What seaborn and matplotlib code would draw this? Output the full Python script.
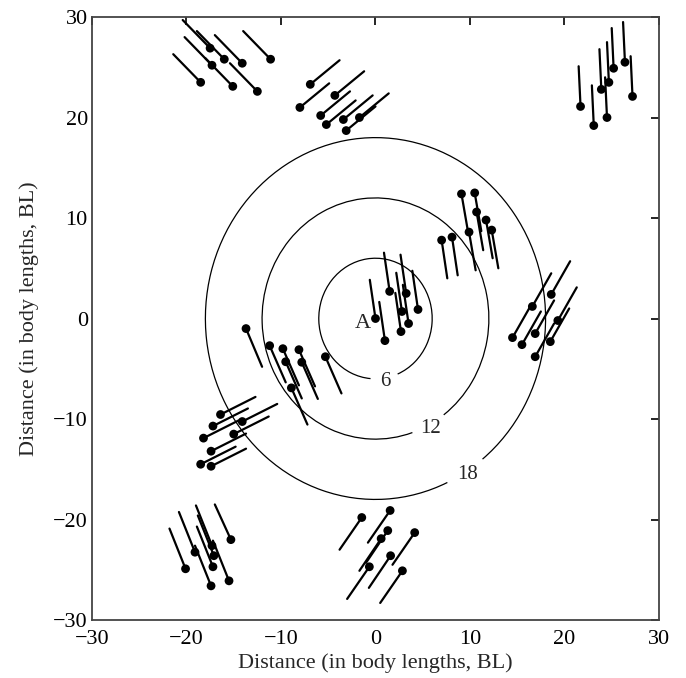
import numpy as np
import pandas as pd
import matplotlib
matplotlib.use("Agg")
import matplotlib.pyplot as plt
from matplotlib.patches import Arc
import seaborn as sns

# Fish head positions (body lengths) and tail end positions, grouped by school
head_x = [
    # north-west school
    -17.5, -16.0, -14.1, -11.1, -17.3, -18.5, -15.1, -12.5,
    # north school
    -6.9, -4.3, -8.0, -5.8, -5.2, -3.4, -1.7, -3.1,
    # north-east school
    21.7, 23.1, 24.5, 23.9, 24.7, 25.2, 26.4, 27.2,
    # inner north-east school
    9.1, 10.5, 10.7, 9.9, 11.7, 12.3, 7.0, 8.1,
    # central school (focal fish A at origin)
    1.5, 3.25, 2.8, 4.5, 3.5, 2.7, 0.0, 1.0,
    # east school
    18.6, 16.6, 19.3, 16.9, 14.5, 15.5, 18.5, 16.9,
    # west school
    -16.4, -17.2, -14.1, -18.2, -15.0, -17.4, -18.5, -17.4,
    # inner west school
    -13.7, -11.2, -9.8, -8.1, -9.5, -7.8, -8.9, -5.3,
    # south-west school
    -15.3, -19.1, -17.3, -17.1, -20.1, -17.2, -17.4, -15.5,
    # south school
    -1.45, 1.55, 1.3, 0.6, 4.15, 1.6, -0.65, 2.85,
]
head_y = [
    26.9, 25.8, 25.4, 25.8, 25.2, 23.5, 23.1, 22.6,
    23.3, 22.2, 21.0, 20.2, 19.3, 19.8, 20.0, 18.7,
    21.1, 19.2, 20.0, 22.8, 23.5, 24.9, 25.5, 22.1,
    12.4, 12.5, 10.6, 8.6, 9.8, 8.8, 7.8, 8.1,
    2.7, 2.5, 0.7, 0.9, -0.5, -1.3, 0.0, -2.2,
    2.4, 1.2, -0.2, -1.5, -1.9, -2.6, -2.3, -3.8,
    -9.55, -10.7, -10.25, -11.9, -11.5, -13.2, -14.5, -14.7,
    -1.0, -2.7, -3.0, -3.1, -4.3, -4.35, -6.9, -3.8,
    -22.0, -23.25, -22.6, -23.6, -24.9, -24.7, -26.6, -26.1,
    -19.8, -19.1, -21.1, -21.9, -21.3, -23.6, -24.7, -25.1,
]
tail_x = [
    -20.4, -18.9, -17.0, -14.0, -20.2, -21.4, -18.0, -15.4,
    -3.8, -1.2, -4.9, -2.7, -2.1, -0.3, 1.4, 0.0,
    21.5, 22.9, 24.3, 23.7, 24.5, 25.0, 26.2, 27.0,
    9.8, 11.2, 11.4, 10.6, 12.4, 13.0, 7.6, 8.7,
    0.9, 2.65, 2.2, 3.9, 2.9, 2.1, -0.6, 0.4,
    20.6, 18.6, 21.3, 18.9, 16.5, 17.5, 20.5, 18.9,
    -12.7, -13.5, -10.4, -14.5, -11.3, -13.7, -14.8, -13.7,
    -12.0, -9.5, -8.1, -6.4, -7.8, -6.1, -7.2, -3.6,
    -17.0, -20.8, -19.0, -18.8, -21.8, -18.9, -19.1, -17.2,
    -3.8, -0.8, -1.0, -1.7, 1.8, -0.7, -3.0, 0.5,
]
tail_y = [
    29.7, 28.6, 28.2, 28.6, 28.0, 26.3, 25.9, 25.4,
    25.7, 24.6, 23.4, 22.6, 21.7, 22.2, 22.4, 21.1,
    25.1, 23.2, 24.0, 26.8, 27.5, 28.9, 29.5, 26.1,
    8.6, 8.7, 6.8, 4.8, 6.0, 5.0, 4.0, 4.3,
    6.55, 6.35, 4.55, 4.75, 3.35, 2.55, 3.85, 1.65,
    5.7, 4.5, 3.1, 1.8, 1.4, 0.7, 1.0, -0.5,
    -7.8, -8.95, -8.5, -10.15, -9.75, -11.45, -12.75, -12.95,
    -4.8, -6.35, -6.65, -6.75, -7.95, -8.0, -10.55, -7.45,
    -18.5, -19.25, -18.6, -19.6, -20.9, -20.7, -22.6, -22.1,
    -23.0, -22.3, -24.3, -25.1, -24.5, -26.8, -27.9, -28.3,
]

ring_radii = [6, 12, 18]
ring_labels = ["6", "12", "18"]
ring_label_angles = [-81, -62, -58]
ring_gap_halfwidths = [14, 9, 7]

fish = pd.DataFrame({"x": head_x, "y": head_y, "tx": tail_x, "ty": tail_y})
fish["id"] = np.arange(len(fish))
segments = pd.concat([
    fish[["id", "x", "y"]],
    fish[["id", "tx", "ty"]].rename(columns={"tx": "x", "ty": "y"}),
]).sort_values("id", kind="stable")

sns.set_theme(style="white")
plt.rcParams["font.family"] = ["Liberation Serif", "DejaVu Serif"]

fig = plt.figure(figsize=(6.86, 6.78), dpi=100)
ax = fig.add_axes([0.1341, 0.0855, 0.8265, 0.8894])

# Distance rings around the focal fish, each broken where its label sits
for r, lab, ang, gap in zip(ring_radii, ring_labels, ring_label_angles, ring_gap_halfwidths):
    ax.add_patch(Arc((0, 0), 2 * r, 2 * r, theta1=ang + gap, theta2=ang - gap + 360,
                     color="black", lw=0.9))
    a = np.deg2rad(ang)
    rl = r + 0.35
    ax.text(rl * np.cos(a), rl * np.sin(a), lab, ha="center", va="center", fontsize=15)

# Tails
sns.lineplot(data=segments, x="x", y="y", units="id", estimator=None, sort=False,
             color="black", lw=1.6, ax=ax, legend=False)
# Heads
sns.scatterplot(data=fish, x="x", y="y", color="black", s=40, edgecolor="none",
                ax=ax, legend=False, zorder=3)

ax.text(-1.3, -0.5, "A", ha="center", va="center", fontsize=16)

ax.set_xlim(-30, 30)
ax.set_ylim(-30, 30)
ticks = [-30, -20, -10, 0, 10, 20, 30]
ax.set_xticks(ticks)
ax.set_yticks(ticks)
ax.tick_params(direction="in", length=6, width=1.2, top=True, right=True,
               labelsize=16, colors="black")
ax.tick_params(axis="x", pad=7)
ax.tick_params(axis="y", pad=3)
for s in ax.spines.values():
    s.set_color("#444444")
    s.set_linewidth(1.3)
ax.set_xlabel("Distance (in body lengths, BL)", fontsize=16, labelpad=3)
ax.set_ylabel("Distance (in body lengths, BL)", fontsize=16, labelpad=10)

fig.savefig("out.png", dpi=100)
